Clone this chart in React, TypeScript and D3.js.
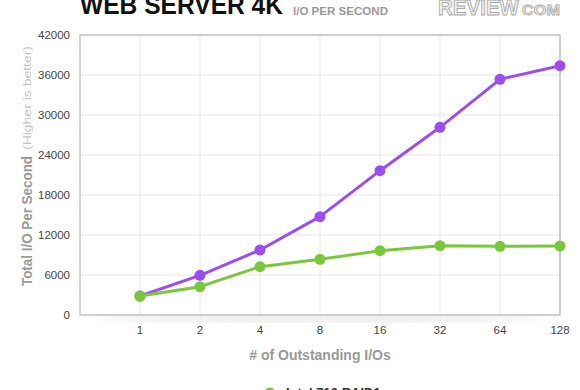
import * as d3 from "d3";
import React, { useEffect, useRef } from "react";

// Chart data
const categories = ["1", "2", "4", "8", "16", "32", "64", "128"];
const purpleValues = [2850, 5950, 9750, 14750, 21650, 28150, 35350, 37400];
const greenValues = [2850, 4250, 7250, 8350, 9650, 10400, 10300, 10350];
const yTicks = [0, 6000, 12000, 18000, 24000, 30000, 36000, 42000];
const legendLabels = ["Intel 710 RAID1"];

const WIDTH = 580;
const HEIGHT = 390;
const PURPLE = "#9b4ded";
const GREEN = "#78c83a";

const App: React.FC = () => {
  const svgRef = useRef<SVGSVGElement>(null);

  useEffect(() => {
    if (!svgRef.current) return;
    const margin = { top: 35, right: 20, bottom: 75, left: 80 };
    const plotWidth = WIDTH - margin.left - margin.right;
    const plotHeight = HEIGHT - margin.top - margin.bottom;

    const svg = d3.select(svgRef.current);
    svg.selectAll("*").remove();
    svg.attr("width", WIDTH).attr("height", HEIGHT);

    const font = "'Liberation Sans', Arial, Helvetica, sans-serif";

    // Title (top is cut off in the reference)
    svg
      .append("text")
      .attr("x", 80)
      .attr("y", 14)
      .attr("font-family", font)
      .attr("font-size", 25)
      .attr("font-weight", "bold")
      .attr("fill", "#111")
      .attr("textLength", 203)
      .attr("lengthAdjust", "spacingAndGlyphs")
      .text("WEB SERVER 4K");
    svg
      .append("text")
      .attr("x", 293)
      .attr("y", 15)
      .attr("font-family", font)
      .attr("font-size", 11)
      .attr("font-weight", "bold")
      .attr("fill", "#999")
      .attr("textLength", 95)
      .attr("lengthAdjust", "spacingAndGlyphs")
      .text("I/O PER SECOND");

    // Logo
    svg
      .append("text")
      .attr("x", 438)
      .attr("y", 15)
      .attr("font-family", font)
      .attr("font-size", 22)
      .attr("font-weight", "bold")
      .attr("fill", "#eee")
      .attr("stroke", "#aaa")
      .attr("stroke-width", 0.9)
      .attr("textLength", 81)
      .attr("lengthAdjust", "spacingAndGlyphs")
      .text("REVIEW");
    svg
      .append("text")
      .attr("x", 522)
      .attr("y", 15)
      .attr("font-family", font)
      .attr("font-size", 14)
      .attr("font-weight", "bold")
      .attr("fill", "#eee")
      .attr("stroke", "#aaa")
      .attr("stroke-width", 0.8)
      .attr("textLength", 38)
      .attr("lengthAdjust", "spacingAndGlyphs")
      .text("COM");

    const g = svg
      .append("g")
      .attr("transform", `translate(${margin.left},${margin.top})`);

    // Scales: an empty slot to the left of the first category
    const x = d3
      .scalePoint<string>()
      .domain(["", ...categories])
      .range([0, plotWidth]);
    const y = d3.scaleLinear().domain([0, 42000]).range([plotHeight, 0]);

    // Soft shadow under the plot
    const defs = svg.append("defs");
    defs
      .append("filter")
      .attr("id", "blur")
      .append("feGaussianBlur")
      .attr("stdDeviation", 4);
    g.append("ellipse")
      .attr("cx", plotWidth / 2)
      .attr("cy", plotHeight + 3)
      .attr("rx", plotWidth * 0.46)
      .attr("ry", 4)
      .attr("fill", "#e6e6e6")
      .attr("filter", "url(#blur)");
    g.append("rect")
      .attr("width", plotWidth)
      .attr("height", plotHeight)
      .attr("fill", "#fff");

    // Grid lines
    g.append("g")
      .selectAll("line")
      .data(yTicks)
      .join("line")
      .attr("x1", 0)
      .attr("x2", plotWidth)
      .attr("y1", (d) => y(d))
      .attr("y2", (d) => y(d))
      .attr("stroke", "#e6e6e6");
    g.append("g")
      .selectAll("line")
      .data(categories)
      .join("line")
      .attr("x1", (d) => x(d) || 0)
      .attr("x2", (d) => x(d) || 0)
      .attr("y1", 0)
      .attr("y2", plotHeight)
      .attr("stroke", "#e6e6e6");

    // Frame
    g.append("rect")
      .attr("width", plotWidth)
      .attr("height", plotHeight)
      .attr("fill", "none")
      .attr("stroke", "#b8b8b8")
      .attr("stroke-width", 1.2);

    // Y tick labels
    g.append("g")
      .selectAll("text")
      .data(yTicks)
      .join("text")
      .attr("x", -10)
      .attr("y", (d) => y(d))
      .attr("dy", "0.35em")
      .attr("text-anchor", "end")
      .attr("font-family", font)
      .attr("font-size", 11.5)
      .attr("fill", "#444")
      .text((d) => d);

    // X tick labels
    g.append("g")
      .selectAll("text")
      .data(categories)
      .join("text")
      .attr("x", (d) => x(d) || 0)
      .attr("y", plotHeight + 19)
      .attr("text-anchor", "middle")
      .attr("font-family", font)
      .attr("font-size", 11.5)
      .attr("fill", "#444")
      .text((d) => d);

    // Axis titles
    svg
      .append("text")
      .attr("x", margin.left + plotWidth / 2)
      .attr("y", 360)
      .attr("text-anchor", "middle")
      .attr("font-family", font)
      .attr("font-size", 14)
      .attr("font-weight", "bold")
      .attr("fill", "#999")
      .text("# of Outstanding I/Os");
    const yTitle = svg
      .append("g")
      .attr("transform", "translate(32,286) rotate(-90)")
      .attr("font-family", font);
    yTitle
      .append("text")
      .attr("font-size", 14)
      .attr("font-weight", "bold")
      .attr("fill", "#999")
      .attr("textLength", 130)
      .attr("lengthAdjust", "spacingAndGlyphs")
      .text("Total I/O Per Second");
    yTitle
      .append("text")
      .attr("x", 136)
      .attr("y", -1)
      .attr("font-size", 11)
      .attr("fill", "#c4c4c4")
      .attr("textLength", 104)
      .attr("lengthAdjust", "spacingAndGlyphs")
      .text("(Higher is better)");

    // Series
    const series = [
      { values: purpleValues, color: PURPLE },
      { values: greenValues, color: GREEN },
    ];
    const line = d3
      .line<number>()
      .x((d, i) => x(categories[i]) || 0)
      .y((d) => y(d));

    series.forEach((s, si) => {
      g.append("path")
        .attr("fill", "none")
        .attr("stroke", s.color)
        .attr("stroke-width", 3)
        .attr("stroke-linejoin", "round")
        .attr("d", line(s.values) || "");
      g.selectAll(`.pt-${si}`)
        .data(s.values)
        .join("circle")
        .attr("class", `pt-${si}`)
        .attr("cx", (d, i) => x(categories[i]) || 0)
        .attr("cy", (d) => y(d))
        .attr("r", 5.5)
        .attr("fill", s.color);
    });

    // Legend
    const legend = svg
      .append("g")
      .selectAll("g")
      .data(legendLabels)
      .join("g")
      .attr("transform", (d, i) => `translate(270,${393 + i * 20})`);
    legend
      .append("circle")
      .attr("r", 5.5)
      .attr("fill", GREEN);
    legend
      .append("text")
      .attr("x", 16)
      .attr("y", 4)
      .attr("font-family", font)
      .attr("font-size", 13)
      .attr("font-weight", "bold")
      .attr("fill", "#333")
      .text((d) => d);
  }, []);

  return (
    <svg
      ref={svgRef}
      style={{ position: "absolute", left: 0, top: 0, display: "block" }}
    />
  );
};

export default App;
